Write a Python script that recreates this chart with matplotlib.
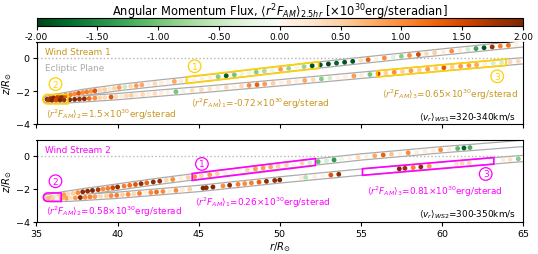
import numpy as np
import matplotlib
matplotlib.use('Agg')
import matplotlib.pyplot as plt
from matplotlib.colors import ListedColormap, Normalize
from matplotlib.patches import Polygon
from matplotlib.cm import ScalarMappable

# ---------------- data ----------------
# Trajectory tracks (r, z) of the two branches in each panel
ws1_upper_track_r = [35.6, 36, 37, 38, 40, 42, 44, 46, 48, 50, 52, 55, 60, 65]
ws1_upper_track_z = [-2.52, -2.42, -2.24, -2.07, -1.8, -1.58, -1.37, -1.16, -0.92, -0.69, -0.47, -0.15, 0.36, 0.86]
ws1_lower_track_r = [35.6, 36, 37, 38, 40, 45, 50, 55, 60, 65]
ws1_lower_track_z = [-2.52, -2.56, -2.53, -2.47, -2.34, -1.93, -1.5, -1.05, -0.6, -0.17]
ws2_upper_track_r = [35.6, 36, 37, 38, 40, 42, 45, 50, 55, 60, 65]
ws2_upper_track_z = [-2.55, -2.45, -2.3, -2.15, -1.88, -1.6, -1.22, -0.6, -0.06, 0.38, 0.76]
ws2_lower_track_r = [35.6, 36, 37, 38, 40, 45, 50, 55, 60, 65]
ws2_lower_track_z = [-2.55, -2.58, -2.56, -2.5, -2.38, -1.97, -1.45, -0.98, -0.55, -0.15]

# 2.5 hr averaged angular momentum flux samples (r position, value x1e30)
ws1_upper_r = [35.65, 35.85, 36.05, 36.3, 36.55, 36.8, 37.1, 37.35, 37.6, 37.85, 38.1, 38.35, 38.6, 38.9,
               39.2, 39.5, 39.8, 40.1, 40.45, 40.8, 41.15, 41.5, 41.9, 42.3, 42.7, 43.1, 43.5, 43.9, 44.3,
               44.7, 45.2, 45.7, 46.2, 46.7, 47.2, 47.65, 48.1, 48.55, 49.05, 49.55, 50.05, 50.55, 51.05,
               51.5, 52.0, 52.5, 53.0, 53.5, 54.0, 54.5, 55.0, 55.45, 55.95, 56.45, 57.0, 57.5, 58.0, 58.55,
               59.05, 59.55, 60.1, 60.6, 61.1, 61.6, 62.1, 62.6, 63.1, 63.6, 64.1, 64.6]
ws1_upper_val = [2.0, 1.8, 2.0, 1.6, 1.9, 1.4, 1.1, 1.0, 1.4, 1.0, 1.1, 0.9, 1.4, 0.4,
                 0.5, 0.2, 0.45, 0.9, -0.5, 0.4, 0.9, 0.8, 0.1, 0.4, 0.15, 0.05, 0.8, 0.2, 0.1,
                 0.05, 0.15, 0.1, -0.9, -1.8, -1.0, -0.2, -0.15, -0.9, -0.7, -0.2, 0.9, -0.8, -0.15,
                 -0.8, -1.9, -1.9, -2.0, -1.8, -1.9, -1.9, 0.35, 1.3, 0.1, 1.0, -0.3, -0.9, 1.0, 1.5,
                 0.4, 0.5, 0.15, 1.0, 0.15, -0.4, -1.3, -1.9, 1.8, 1.1, 1.2, 0.1]

ws1_lower_r = [35.75, 35.95, 36.2, 36.45, 36.7, 37.05, 37.35, 37.65, 37.95, 38.25, 38.6, 38.9, 39.2, 39.6,
               39.9, 40.25, 40.55, 40.85, 41.15, 41.55, 41.9, 42.3, 42.7, 43.1, 43.6, 44.05, 44.6, 45.17,
               45.68, 46.19, 46.71, 47.18, 47.64, 48.11, 48.6, 49.07, 49.59, 50.1, 50.56, 51.03, 51.54,
               52.06, 52.57, 53.09, 53.56, 54.05, 54.57, 55.04, 55.56, 56.07, 56.54, 57.06, 57.57, 58.09,
               58.6, 59.12, 59.63, 60.12, 60.64, 61.15, 61.67, 62.14, 62.65, 63.17, 63.68, 64.2, 64.71]
ws1_lower_val = [1.7, 2.0, 1.5, 2.0, 1.8, 1.9, 2.0, 1.8, 1.9, 1.2, 1.0, 0.45, 0.4, 1.4,
                 0.4, 0.15, 0.4, 0.5, 0.15, 0.4, 0.15, 0.35, 0.15, 0.1, -1.0, -0.2, 0.35, 0.4,
                 0.3, 0.15, 0.4, 0.05, 0.4, 1.0, 1.3, 0.9, 0.5, 0.1, 0.4, 0.15, 0.8,
                 0.4, -0.9, -0.4, 0.05, 0.1, 0.9, 0.15, -1.0, 1.5, 0.5, 1.0, 0.5, 0.9,
                 0.5, 0.9, 0.5, 1.4, 0.5, 0.9, 0.9, 0.8, 0.1, -0.4, -0.4, 0.4, 0.4]

ws2_upper_r = [35.65, 35.9, 36.15, 36.4, 36.7, 36.95, 37.25, 37.55, 37.85, 38.15, 38.45, 38.8, 39.1, 39.4,
               39.7, 40.0, 40.4, 40.75, 41.1, 41.45, 41.8, 42.2, 42.6, 43.0, 43.4, 43.9, 44.35, 44.75,
               45.17, 45.68, 46.15, 46.65, 47.12, 47.53, 48.0, 48.5, 48.97, 49.44, 49.9, 50.41, 50.88,
               51.38, 51.85, 52.37, 52.88, 53.35, 53.81, 54.32, 54.83, 55.35, 55.86, 56.38, 56.89, 57.41,
               57.92, 58.44, 58.95, 59.46, 59.92, 60.45, 60.97, 61.36, 61.73]
ws2_upper_val = [0.4, 0.6, -0.3, 0.5, 0.9, 0.4, 0.5, 1.0, 1.9, 1.9, 2.0, 1.7, 1.0, 1.1,
                 1.5, 1.9, 1.1, 1.2, 1.4, 1.9, 1.3, 1.9, 1.8, 0.45, 1.0, 0.1, 0.5, 1.0,
                 0.45, 0.9, 0.5, 0.1, 0.1, 0.05, 0.5, 0.9, 0.9, 0.8, 0.5, 0.45, 0.1,
                 0.45, -0.4, -1.1, -0.4, -1.4, -0.2, 0.05, 0.4, 0.1, 0.8, 1.3, 0.6, 0.1,
                 1.0, 0.1, 0.15, 0.1, 1.0, 0.1, -1.1, -1.8, -1.2]

ws2_lower_r = [35.75, 36.0, 36.3, 36.55, 36.85, 37.1, 37.4, 37.7, 38.0, 38.3, 38.6, 38.95, 39.3, 39.6,
               39.95, 40.3, 40.65, 41.0, 41.35, 41.7, 42.05, 42.4, 42.8, 43.2, 43.6, 44.0, 44.45, 45.27,
               45.47, 45.88, 46.5, 46.91, 47.43, 47.84, 48.25, 48.72, 49.18, 49.69, 50.0, 51.34, 51.6,
               52.16, 52.67, 53.15, 53.64, 57.37, 57.72, 58.23, 58.7, 59.22, 59.71, 60.9, 61.25, 61.69,
               63.78, 64.2, 64.71]
ws2_lower_val = [0.7, 0.5, -0.2, 0.8, 0.9, 0.3, 0.9, 2.0, 1.0, 1.1, 0.9, 0.4, 0.45, 1.0,
                 1.1, 0.5, 1.0, 0.4, 1.1, 0.1, 1.0, 1.2, 1.0, 0.1, 1.0, 0.2, 0.5, 2.0,
                 1.9, 2.0, 1.0, 1.9, 1.1, 1.0, 1.1, 1.3, 1.9, 1.9, 2.0, 0.1, -0.6,
                 0.15, 0.05, 1.4, 1.9, 2.0, 1.8, 1.1, 1.9, 0.9, 0.05, 0.3, 0.45, 0.4,
                 0.15, 0.3, -0.9]

cbar_ticks = [-2.0, -1.5, -1.0, -0.5, 0.0, 0.5, 1.0, 1.5, 2.0]
x_ticks = [35, 40, 45, 50, 55, 60, 65]
y_ticks = [-4, -2, 0]

# ---------------- style ----------------
cmap = ListedColormap(np.vstack([plt.cm.Greens_r(np.linspace(0, 1, 128)),
                                 plt.cm.Oranges(np.linspace(0, 1, 128))]))
norm = Normalize(-2, 2)
GOLD_TXT = '#C8961E'
GOLD_BOX = '#FFD000'
MAG = '#FF00FF'
TUBE = '#ababab'
FS = 6.4

W, H = 538, 255
fig = plt.figure(figsize=(W / 100, H / 100), dpi=100)
cax = fig.add_axes([36.5 / W, 1 - 27 / H, 486.5 / W, 8 / H])
ax1 = fig.add_axes([36.5 / W, 1 - 125 / H, 486.5 / W, 82.5 / H])
ax2 = fig.add_axes([36.5 / W, 1 - 223 / H, 486.5 / W, 82.5 / H])

# colorbar
cb = fig.colorbar(ScalarMappable(norm=norm, cmap=cmap), cax=cax, orientation='horizontal')
cb.set_ticks(cbar_ticks)
cb.ax.xaxis.set_major_formatter(matplotlib.ticker.FormatStrFormatter('%.2f'))
cb.ax.tick_params(labelsize=6.5, length=3, pad=1.5)
cb.outline.set_linewidth(0.8)
fig.text(0.5 * (36.5 + 523) / W, 1 - 12 / H,
         r'Angular Momentum Flux, $\langle r^2F_{AM}\rangle_{2.5hr}$ [$\times10^{30}$erg/steradian]',
         ha='center', va='center', fontsize=8.3)


def draw_tube(ax, ur, uz, lr, lz):
    r = np.concatenate([np.array(ur)[::-1], np.array(lr)[1:]])
    z = np.concatenate([np.array(uz)[::-1], np.array(lz)[1:]])
    ax.plot(r, z, color=TUBE, lw=5.4, solid_capstyle='butt', solid_joinstyle='round', zorder=2)
    ax.plot(r, z, color='white', lw=3.6, solid_capstyle='butt', solid_joinstyle='round', zorder=3)


def draw_dots(ax, r, v, tr, tz):
    r = np.asarray(r)
    z = np.interp(r, tr, tz)
    ax.scatter(r, z, c=v, cmap=cmap, norm=norm, s=12, linewidths=0, zorder=4)


def tube_box(ax, tr, tz, r0, r1, h, color):
    z0 = np.interp(r0, tr, tz)
    z1 = np.interp(r1, tr, tz)
    ax.add_patch(Polygon([(r0, z0 - h), (r1, z1 - h), (r1, z1 + h), (r0, z0 + h)],
                         closed=True, fill=False, ec=color, lw=1.2, zorder=5))


def tip_box(ax, r0, r1, zb, zt, color):
    rad = (zt - zb) / 2
    zc = (zt + zb) / 2
    th = np.linspace(np.pi / 2, 3 * np.pi / 2, 30)
    pts = [(r1, zt)] + list(zip(r0 + rad + rad * np.cos(th), zc + rad * np.sin(th))) + [(r1, zb)]
    ax.add_patch(Polygon(pts, closed=True, fill=False, ec=color, lw=1.2, zorder=5))


def circ(ax, r, z, s, color):
    ax.text(r, z, s, color=color, fontsize=6.5, ha='center', va='center', zorder=6,
            bbox=dict(boxstyle='circle,pad=0.2', ec=color, fc='none', lw=0.9))


for ax in (ax1, ax2):
    ax.set_xlim(35, 65)
    ax.set_ylim(-4, 1)
    ax.set_xticks(x_ticks)
    ax.set_yticks(y_ticks)
    ax.tick_params(labelsize=6.8, length=3, pad=2)
    ax.axhline(0, color='#b5b5b5', ls=':', lw=1.0, zorder=1)
    ax.set_ylabel(r'$z/R_{\odot}$', fontsize=7.2, labelpad=1)

ax1.tick_params(labelbottom=False)
ax2.set_xlabel(r'$r/R_{\odot}$', fontsize=7.2, labelpad=1)

# ---- panel 1
draw_tube(ax1, ws1_upper_track_r, ws1_upper_track_z, ws1_lower_track_r, ws1_lower_track_z)
draw_dots(ax1, ws1_upper_r, ws1_upper_val, ws1_upper_track_r, ws1_upper_track_z)
draw_dots(ax1, ws1_lower_r, ws1_lower_val, ws1_lower_track_r, ws1_lower_track_z)
tube_box(ax1, ws1_upper_track_r, ws1_upper_track_z, 44.25, 52.4, 0.2, GOLD_BOX)
tube_box(ax1, ws1_lower_track_r, ws1_lower_track_z, 56.0, 63.95, 0.19, GOLD_BOX)
tip_box(ax1, 35.39, 36.93, -2.78, -2.21, GOLD_BOX)
circ(ax1, 44.75, -0.5, '1', GOLD_BOX)
circ(ax1, 36.17, -1.58, '2', GOLD_BOX)
circ(ax1, 63.41, -1.11, '3', GOLD_BOX)
ax1.text(35.55, 0.38, 'Wind Stream 1', color=GOLD_TXT, fontsize=FS, ha='left', va='center')
ax1.text(35.55, -0.55, 'Ecliptic Plane', color='#aaaaaa', fontsize=FS, ha='left', va='center')
ax1.text(35.6, -3.38, r'$\langle r^2F_{AM}\rangle_2$=1.5$\times10^{30}$erg/sterad',
         color=GOLD_TXT, fontsize=FS, ha='left', va='center')
ax1.text(44.55, -2.72, r'$\langle r^2F_{AM}\rangle_1$=-0.72$\times10^{30}$erg/sterad',
         color=GOLD_TXT, fontsize=FS, ha='left', va='center')
ax1.text(56.28, -2.14, r'$\langle r^2F_{AM}\rangle_3$=0.65$\times10^{30}$erg/sterad',
         color=GOLD_TXT, fontsize=FS, ha='left', va='center')
ax1.text(64.55, -3.5, r'$\langle v_r\rangle_{WS1}$=320-340km/s', color='black',
         fontsize=FS, ha='right', va='center')

# ---- panel 2
draw_tube(ax2, ws2_upper_track_r, ws2_upper_track_z, ws2_lower_track_r, ws2_lower_track_z)
draw_dots(ax2, ws2_upper_r, ws2_upper_val, ws2_upper_track_r, ws2_upper_track_z)
draw_dots(ax2, ws2_lower_r, ws2_lower_val, ws2_lower_track_r, ws2_lower_track_z)
tube_box(ax2, ws2_upper_track_r, ws2_upper_track_z, 44.6, 52.2, 0.21, MAG)
tube_box(ax2, ws2_lower_track_r, ws2_lower_track_z, 55.1, 63.2, 0.2, MAG)
tip_box(ax2, 35.43, 36.52, -2.75, -2.24, MAG)
circ(ax2, 45.2, -0.48, '1', MAG)
circ(ax2, 36.17, -1.53, '2', MAG)
circ(ax2, 62.7, -1.09, '3', MAG)
ax2.text(35.55, 0.4, 'Wind Stream 2', color=MAG, fontsize=FS, ha='left', va='center')
ax2.text(35.6, -3.35, r'$\langle r^2F_{AM}\rangle_2$=0.58$\times10^{30}$erg/sterad',
         color=MAG, fontsize=FS, ha='left', va='center')
ax2.text(44.75, -2.75, r'$\langle r^2F_{AM}\rangle_1$=0.26$\times10^{30}$erg/sterad',
         color=MAG, fontsize=FS, ha='left', va='center')
ax2.text(55.35, -2.08, r'$\langle r^2F_{AM}\rangle_3$=0.81$\times10^{30}$erg/sterad',
         color=MAG, fontsize=FS, ha='left', va='center')
ax2.text(64.55, -3.45, r'$\langle v_r\rangle_{WS2}$=300-350km/s', color='black',
         fontsize=FS, ha='right', va='center')

fig.savefig('out.png', dpi=100)
